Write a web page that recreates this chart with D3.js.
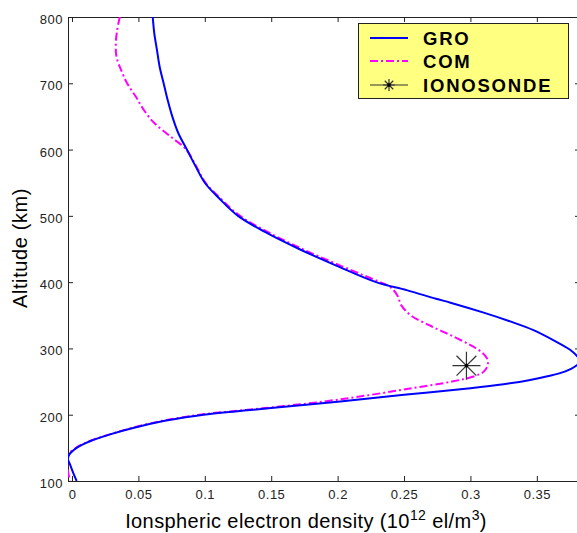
<!DOCTYPE html>
<html>
<head>
<meta charset="utf-8">
<script src="https://cdn.jsdelivr.net/npm/d3@7"></script>
<style>
  body { margin: 0; background: #fff; }
  text { font-family: "Liberation Sans", Arial, sans-serif; }
</style>
</head>
<body>
<div id="chart"></div>
<script>
// altitude (km) and electron density (1e12 el/m^3)
const groAlt = [800, 775, 750, 725, 700, 675, 650, 625, 600, 575, 550, 525, 500, 475, 450, 425, 400, 388, 375, 369, 354, 340, 328, 313, 298, 289, 281, 273, 265, 258, 252, 246, 240, 230, 220, 210, 205, 200, 195, 190, 180, 170, 160, 150, 140, 133, 125, 112, 100];
const groDen = [0.0608, 0.062, 0.064, 0.066, 0.069, 0.072, 0.0755, 0.080, 0.0865, 0.093, 0.100, 0.1115, 0.125, 0.146, 0.171, 0.199, 0.229, 0.252, 0.274, 0.285, 0.310, 0.331, 0.347, 0.362, 0.375, 0.380, 0.3825, 0.379, 0.371, 0.358, 0.344, 0.325, 0.300, 0.250, 0.202, 0.150, 0.123, 0.099, 0.082, 0.068, 0.046, 0.028, 0.0135, 0.0035, -0.002, -0.003, -0.0015, 0.001, 0.0035];

const comAlt = [800, 780, 760, 740, 720, 700, 680, 660, 640, 620, 600, 575, 550, 525, 500, 475, 450, 425, 410, 400, 392, 380, 365, 350, 335, 320, 305, 295, 285, 275, 265, 258, 250, 240, 230, 220, 210, 205, 200, 195, 190, 180, 170, 160, 150, 140, 130, 115, 100];
const comDen = [0.036, 0.034, 0.033, 0.0335, 0.037, 0.0415, 0.048, 0.054, 0.062, 0.074, 0.086, 0.0935, 0.1005, 0.1125, 0.1265, 0.148, 0.1735, 0.202, 0.220, 0.232, 0.240, 0.245, 0.248, 0.255, 0.269, 0.285, 0.300, 0.308, 0.3125, 0.313, 0.310, 0.303, 0.286, 0.256, 0.225, 0.190, 0.145, 0.119, 0.096, 0.080, 0.066, 0.045, 0.028, 0.013, 0.003, -0.003, -0.0035, -0.003, -0.0015];

const ionoAlt = [274];
const ionoDen = [0.297];

const xTicks = [0, 0.05, 0.1, 0.15, 0.2, 0.25, 0.3, 0.35];
const yTicks = [100, 200, 300, 400, 500, 600, 700, 800];
const seriesNames = ['GRO', 'COM', 'IONOSONDE'];

const W = 577, H = 533;
const plotL = 68, plotR = 580, plotT = 17, plotB = 481;

const svg = d3.select('#chart').append('svg')
    .attr('width', W)
    .attr('height', H);

const x = d3.scaleLinear().domain([-0.003, 0.3825]).range([plotL, plotR]);
const y = d3.scaleLinear().domain([100, 800]).range([plotB, plotT]);

svg.append('defs').append('clipPath').attr('id', 'plot')
  .append('rect')
    .attr('x', plotL).attr('y', plotT)
    .attr('width', plotR - plotL).attr('height', plotB - plotT);

// ticks (inward, MATLAB style)
const tickFont = g => g.selectAll('text')
    .attr('font-size', 13)
    .attr('letter-spacing', 0.5)
    .attr('fill', '#222');

svg.append('g')
    .attr('transform', `translate(0,${plotB})`)
    .call(d3.axisBottom(x).tickValues(xTicks).tickSize(-5).tickPadding(9).tickFormat(d => String(d)))
    .call(g => g.select('.domain').remove())
    .call(tickFont);

svg.append('g')
    .attr('transform', `translate(0,${plotT})`)
    .call(d3.axisTop(x).tickValues(xTicks).tickSize(-5).tickFormat(''))
    .call(g => g.select('.domain').remove());

svg.append('g')
    .attr('transform', `translate(${plotL},0)`)
    .call(d3.axisLeft(y).tickValues(yTicks).tickSize(-5).tickPadding(5))
    .call(g => g.select('.domain').remove())
    .call(tickFont)
    .call(g => g.selectAll('text').attr('dy', '0.5em'));

svg.append('g')
    .attr('transform', `translate(${plotR},0)`)
    .call(d3.axisRight(y).tickValues(yTicks).tickSize(-5).tickFormat(''))
    .call(g => g.select('.domain').remove());

svg.selectAll('.tick line').attr('stroke', '#222');

svg.append('rect')
    .attr('x', plotL + 0.5).attr('y', plotT + 0.5)
    .attr('width', plotR - plotL).attr('height', plotB - plotT)
    .attr('fill', 'none')
    .attr('stroke', '#222');

// profiles
const line = d3.line()
    .x(d => x(d[1]))
    .y(d => y(d[0]))
    .curve(d3.curveCatmullRom);

const plot = svg.append('g').attr('clip-path', 'url(#plot)');

plot.append('path')
    .datum(d3.zip(comAlt, comDen))
    .attr('d', line)
    .attr('fill', 'none')
    .attr('stroke', '#ff00ff')
    .attr('stroke-width', 2)
    .attr('stroke-dasharray', '8,3,2,3');

plot.append('path')
    .datum(d3.zip(groAlt, groDen))
    .attr('d', line)
    .attr('fill', 'none')
    .attr('stroke', '#0000ff')
    .attr('stroke-width', 2);

function star(g, cx, cy, r) {
  const p = d3.path();
  for (let k = 0; k < 4; k++) {
    const a = k * Math.PI / 4;
    p.moveTo(cx - r * Math.cos(a), cy - r * Math.sin(a));
    p.lineTo(cx + r * Math.cos(a), cy + r * Math.sin(a));
  }
  g.append('path').attr('d', p.toString())
      .attr('stroke', '#333').attr('stroke-width', 1.2).attr('fill', 'none');
  g.append('circle').attr('cx', cx).attr('cy', cy).attr('r', 1.8).attr('fill', '#000');
}

d3.zip(ionoAlt, ionoDen).forEach(d => star(plot, x(d[1]), y(d[0]), 14));

// axis titles
svg.append('text')
    .attr('transform', 'translate(27,248) rotate(-90)')
    .attr('text-anchor', 'middle')
    .attr('font-size', 20)
    .attr('letter-spacing', 0.6)
    .text('Altitude (km)');

const xt = svg.append('text')
    .attr('x', 306).attr('y', 528)
    .attr('text-anchor', 'middle')
    .attr('font-size', 20)
    .attr('letter-spacing', 0.4);
xt.append('tspan').text('Ionspheric electron density (10');
xt.append('tspan').attr('font-size', 14).attr('dy', -8).text('12');
xt.append('tspan').attr('dy', 8).text(' el/m');
xt.append('tspan').attr('font-size', 14).attr('dy', -8).text('3');
xt.append('tspan').attr('dy', 8).text(')');

// legend
const lg = svg.append('g');
lg.append('rect')
    .attr('x', 358.5).attr('y', 23.5)
    .attr('width', 210).attr('height', 75)
    .attr('fill', '#ffff80')
    .attr('stroke', '#222');

const rowY = [38, 61, 85];
lg.append('line').attr('x1', 370).attr('x2', 408).attr('y1', rowY[0]).attr('y2', rowY[0])
    .attr('stroke', '#0000ff').attr('stroke-width', 2);
lg.append('line').attr('x1', 370).attr('x2', 408).attr('y1', rowY[1]).attr('y2', rowY[1])
    .attr('stroke', '#ff00ff').attr('stroke-width', 2).attr('stroke-dasharray', '8,3,2,3');
lg.append('line').attr('x1', 370).attr('x2', 408).attr('y1', rowY[2]).attr('y2', rowY[2])
    .attr('stroke', '#333').attr('stroke-width', 1);
star(lg, 389, rowY[2], 6);

lg.selectAll('text.lab')
  .data(seriesNames)
  .enter().append('text')
    .attr('class', 'lab')
    .attr('x', 423)
    .attr('y', (d, i) => rowY[i] + 6.5)
    .attr('font-size', 18.5)
    .attr('font-weight', 'bold')
    .attr('letter-spacing', 1.8)
    .text(d => d);
</script>
</body>
</html>
